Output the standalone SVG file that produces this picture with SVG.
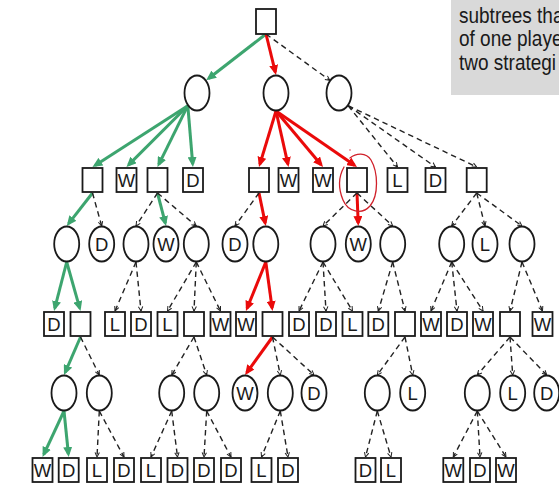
<svg xmlns="http://www.w3.org/2000/svg" width="559" height="492" viewBox="0 0 559 492">
  <style>
    .sq { fill: #fff; stroke: #1a1a1a; stroke-width: 1.8; }
    .ci { fill: #fff; stroke: #1a1a1a; stroke-width: 1.8; }
    .lbl { font-family: "Liberation Sans", Arial, sans-serif; font-size: 18.5px; fill: #1a1a1a; text-anchor: middle; }
    .dash { fill: none; stroke: #222; stroke-width: 1.4; stroke-dasharray: 5.5 4; marker-end: url(#tick); }
    .grn { fill: none; stroke: #3da56f; stroke-width: 3; marker-end: url(#headG); }
    .red { fill: none; stroke: #ea0a0a; stroke-width: 3; marker-end: url(#headR); }
    .note { font-family: "Liberation Sans", Arial, sans-serif; font-size: 19px; fill: #1a1a1a; }
  </style>
  <defs>
    <marker id="headG" markerUnits="userSpaceOnUse" viewBox="0 0 10 9" markerWidth="10" markerHeight="9" refX="7" refY="4.5" orient="auto">
      <path d="M0,0 L10,4.5 L0,9 z" fill="#3da56f"/>
    </marker>
    <marker id="headR" markerUnits="userSpaceOnUse" viewBox="0 0 10 9" markerWidth="10" markerHeight="9" refX="7" refY="4.5" orient="auto">
      <path d="M0,0 L10,4.5 L0,9 z" fill="#ea0a0a"/>
    </marker>
    <marker id="tick" markerUnits="userSpaceOnUse" viewBox="0 0 5 6" markerWidth="5" markerHeight="6" refX="5" refY="3" orient="auto">
      <path d="M0.5,0.8 L5,3 L0.5,5.2" fill="none" stroke="#222" stroke-width="1"/>
    </marker>
  </defs>

  <rect width="559" height="492" fill="#fff"/>

  <!-- side note box (text runs past the right edge) -->
  <g id="note">
    <rect x="451" y="-5" width="120" height="100" fill="#d9d9d9"/>
    <g transform="translate(459,0) scale(1,1.18)">
      <text class="note" x="0" y="19.1">subtrees tha</text>
      <text class="note" x="0" y="39.4">of one playe</text>
      <text class="note" x="0" y="59.7">two strategi</text>
    </g>
  </g>

  <!-- connectors -->
  <g id="connectors">
    <!-- green strategy -->
    <path class="grn" d="M266,34 L208.6,78.5"/>
    <path class="grn" d="M187.8,105.7 L95,165.4"/>
    <path class="grn" d="M187.8,105.7 L128.6,164.9"/>
    <path class="grn" d="M187.8,105.7 L158.8,164.3"/>
    <path class="grn" d="M187.8,105.7 L192.7,164"/>
    <path class="grn" d="M92.5,193 L68.6,223.6"/>
    <path class="grn" d="M157.5,193 L165.3,223.1"/>
    <path class="grn" d="M66.7,262 L54.8,308.1"/>
    <path class="grn" d="M66.7,262 L79.7,308.1"/>
    <path class="grn" d="M80.5,337 L65.2,372.3"/>
    <path class="grn" d="M64,411 L43.8,454.3"/>
    <path class="grn" d="M64,411 L68.4,454"/>
    <!-- red strategy -->
    <path class="red" d="M266,34 L275.3,72.1"/>
    <path class="red" d="M276,111 L259.9,164.1"/>
    <path class="red" d="M276,111 L287.9,164.1"/>
    <path class="red" d="M276,111 L321.1,164.7"/>
    <path class="red" d="M276,111 L354.5,165.3"/>
    <path class="red" d="M259,193 L265.2,223.1"/>
    <path class="red" d="M357,193 L358.2,223"/>
    <path class="red" d="M265.8,262 L247.1,308.2"/>
    <path class="red" d="M265.8,262 L272.1,308"/>
    <path class="red" d="M272.5,337 L246.8,372.6"/>
    <!-- remaining moves -->
    <path class="dash" d="M266,34 L329.8,80.3"/>
    <path class="dash" d="M348.2,105.7 L397.5,167"/>
    <path class="dash" d="M348.2,105.7 L435.5,167"/>
    <path class="dash" d="M348.2,105.7 L476.7,167"/>

    <path class="dash" d="M92.5,193 L101.7,226"/>
    <path class="dash" d="M157.5,193 L136,226"/>
    <path class="dash" d="M157.5,193 L196.3,226"/>
    <path class="dash" d="M259,193 L235,226"/>
    <path class="dash" d="M357,193 L323,226"/>
    <path class="dash" d="M357,193 L392.7,226"/>
    <path class="dash" d="M476.7,193 L451.7,226"/>
    <path class="dash" d="M476.7,193 L485,226"/>
    <path class="dash" d="M476.7,193 L522,226"/>

    <path class="dash" d="M136,262 L115,311"/>
    <path class="dash" d="M136,262 L141,311"/>
    <path class="dash" d="M196.3,262 L167.5,311"/>
    <path class="dash" d="M196.3,262 L194,311"/>
    <path class="dash" d="M196.3,262 L220.5,311"/>
    <path class="dash" d="M323,262 L299,311"/>
    <path class="dash" d="M323,262 L326,311"/>
    <path class="dash" d="M323,262 L352.5,311"/>
    <path class="dash" d="M392.7,262 L378.3,311"/>
    <path class="dash" d="M392.7,262 L405,311"/>
    <path class="dash" d="M451.7,262 L431,311"/>
    <path class="dash" d="M451.7,262 L457,311"/>
    <path class="dash" d="M451.7,262 L483,311"/>
    <path class="dash" d="M522,262 L510,311"/>
    <path class="dash" d="M522,262 L542.5,311"/>

    <path class="dash" d="M80.5,337 L99.3,375"/>
    <path class="dash" d="M194,337 L171.7,375"/>
    <path class="dash" d="M194,337 L206.7,375"/>
    <path class="dash" d="M272.5,337 L280.3,375"/>
    <path class="dash" d="M272.5,337 L314,375"/>
    <path class="dash" d="M405,337 L377.3,375"/>
    <path class="dash" d="M405,337 L412.7,375"/>
    <path class="dash" d="M510,337 L477.3,375"/>
    <path class="dash" d="M510,337 L512.7,375"/>
    <path class="dash" d="M510,337 L546.7,375"/>

    <path class="dash" d="M99.3,411 L97,457"/>
    <path class="dash" d="M99.3,411 L124,457"/>
    <path class="dash" d="M171.7,411 L151,457"/>
    <path class="dash" d="M171.7,411 L177.5,457"/>
    <path class="dash" d="M206.7,411 L204,457"/>
    <path class="dash" d="M206.7,411 L231,457"/>
    <path class="dash" d="M280.3,411 L261.5,457"/>
    <path class="dash" d="M280.3,411 L288,457"/>
    <path class="dash" d="M377.3,411 L365.5,457"/>
    <path class="dash" d="M377.3,411 L391,457"/>
    <path class="dash" d="M477.3,411 L453.3,457"/>
    <path class="dash" d="M477.3,411 L480,457"/>
    <path class="dash" d="M477.3,411 L506,457"/>
  </g>

  <!-- level 0 -->
  <g id="n0"><rect class="sq" x="256" y="9" width="20" height="25"/></g>

  <!-- level 1 -->
  <g id="n1a"><ellipse class="ci" cx="197" cy="93" rx="12.5" ry="17.5"/></g>
  <g id="n1b"><ellipse class="ci" cx="276" cy="93" rx="12.5" ry="17.5"/></g>
  <g id="n1c"><ellipse class="ci" cx="339" cy="93" rx="12.5" ry="17.5"/></g>

  <!-- level 2 -->
  <g id="n2a"><rect class="sq" x="82.5" y="168" width="20" height="24"/></g>
  <g id="n2b"><rect class="sq" x="116.5" y="168" width="20" height="24"/><text class="lbl" x="126.5" y="187">W</text></g>
  <g id="n2c"><rect class="sq" x="147.5" y="168" width="20" height="24"/></g>
  <g id="n2d"><rect class="sq" x="183" y="168" width="20" height="24"/><text class="lbl" x="193" y="187">D</text></g>
  <g id="n2e"><rect class="sq" x="249" y="168" width="20" height="24"/></g>
  <g id="n2f"><rect class="sq" x="278.5" y="168" width="20" height="24"/><text class="lbl" x="288.5" y="187">W</text></g>
  <g id="n2g"><rect class="sq" x="313" y="168" width="20" height="24"/><text class="lbl" x="323" y="187">W</text></g>
  <g id="n2h"><rect class="sq" x="347" y="168" width="20" height="24"/></g>
  <g id="n2i"><rect class="sq" x="387.5" y="168" width="20" height="24"/><text class="lbl" x="397.5" y="187">L</text></g>
  <g id="n2j"><rect class="sq" x="425.5" y="168" width="20" height="24"/><text class="lbl" x="435.5" y="187">D</text></g>
  <g id="n2k"><rect class="sq" x="466.7" y="168" width="20" height="24"/></g>

  <!-- level 3 -->
  <g id="n3a"><ellipse class="ci" cx="66.7" cy="244" rx="12.5" ry="17.5"/></g>
  <g id="n3b"><ellipse class="ci" cx="101.7" cy="244" rx="12.5" ry="17.5"/><text class="lbl" x="101.7" y="250.5">D</text></g>
  <g id="n3c"><ellipse class="ci" cx="136" cy="244" rx="12.5" ry="17.5"/></g>
  <g id="n3d"><ellipse class="ci" cx="166" cy="244" rx="12.5" ry="17.5"/><text class="lbl" x="166" y="250.5">W</text></g>
  <g id="n3e"><ellipse class="ci" cx="196.3" cy="244" rx="12.5" ry="17.5"/></g>
  <g id="n3f"><ellipse class="ci" cx="235" cy="244" rx="12.5" ry="17.5"/><text class="lbl" x="235" y="250.5">D</text></g>
  <g id="n3g"><ellipse class="ci" cx="265.8" cy="244" rx="12.5" ry="17.5"/></g>
  <g id="n3h"><ellipse class="ci" cx="323" cy="244" rx="12.5" ry="17.5"/></g>
  <g id="n3i"><ellipse class="ci" cx="358.3" cy="244" rx="12.5" ry="17.5"/><text class="lbl" x="358.3" y="250.5">W</text></g>
  <g id="n3j"><ellipse class="ci" cx="392.7" cy="244" rx="12.5" ry="17.5"/></g>
  <g id="n3k"><ellipse class="ci" cx="451.7" cy="244" rx="12.5" ry="17.5"/></g>
  <g id="n3l"><ellipse class="ci" cx="485" cy="244" rx="12.5" ry="17.5"/><text class="lbl" x="485" y="250.5">L</text></g>
  <g id="n3m"><ellipse class="ci" cx="522" cy="244" rx="12.5" ry="17.5"/></g>

  <!-- level 4 -->
  <g id="n4a"><rect class="sq" x="44" y="312" width="20" height="24"/><text class="lbl" x="54" y="331">D</text></g>
  <g id="n4b"><rect class="sq" x="70.5" y="312" width="20" height="24"/></g>
  <g id="n4c"><rect class="sq" x="105" y="312" width="20" height="24"/><text class="lbl" x="115" y="331">L</text></g>
  <g id="n4d"><rect class="sq" x="131" y="312" width="20" height="24"/><text class="lbl" x="141" y="331">D</text></g>
  <g id="n4e"><rect class="sq" x="157.5" y="312" width="20" height="24"/><text class="lbl" x="167.5" y="331">L</text></g>
  <g id="n4f"><rect class="sq" x="184" y="312" width="20" height="24"/></g>
  <g id="n4g"><rect class="sq" x="210.5" y="312" width="20" height="24"/><text class="lbl" x="220.5" y="331">W</text></g>
  <g id="n4h"><rect class="sq" x="236" y="312" width="20" height="24"/><text class="lbl" x="246" y="331">W</text></g>
  <g id="n4i"><rect class="sq" x="262.5" y="312" width="20" height="24"/></g>
  <g id="n4j"><rect class="sq" x="289" y="312" width="20" height="24"/><text class="lbl" x="299" y="331">D</text></g>
  <g id="n4k"><rect class="sq" x="316" y="312" width="20" height="24"/><text class="lbl" x="326" y="331">D</text></g>
  <g id="n4l"><rect class="sq" x="342.5" y="312" width="20" height="24"/><text class="lbl" x="352.5" y="331">L</text></g>
  <g id="n4m"><rect class="sq" x="368.3" y="312" width="20" height="24"/><text class="lbl" x="378.3" y="331">D</text></g>
  <g id="n4n"><rect class="sq" x="395" y="312" width="20" height="24"/></g>
  <g id="n4o"><rect class="sq" x="421" y="312" width="20" height="24"/><text class="lbl" x="431" y="331">W</text></g>
  <g id="n4p"><rect class="sq" x="447" y="312" width="20" height="24"/><text class="lbl" x="457" y="331">D</text></g>
  <g id="n4q"><rect class="sq" x="473" y="312" width="20" height="24"/><text class="lbl" x="483" y="331">W</text></g>
  <g id="n4r"><rect class="sq" x="500" y="312" width="20" height="24"/></g>
  <g id="n4s"><rect class="sq" x="532.5" y="312" width="20" height="24"/><text class="lbl" x="542.5" y="331">W</text></g>

  <!-- level 5 -->
  <g id="n5a"><ellipse class="ci" cx="64" cy="393" rx="12.5" ry="17.5"/></g>
  <g id="n5b"><ellipse class="ci" cx="99.3" cy="393" rx="12.5" ry="17.5"/></g>
  <g id="n5c"><ellipse class="ci" cx="171.7" cy="393" rx="12.5" ry="17.5"/></g>
  <g id="n5d"><ellipse class="ci" cx="206.7" cy="393" rx="12.5" ry="17.5"/></g>
  <g id="n5e"><ellipse class="ci" cx="245" cy="393" rx="12.5" ry="17.5"/><text class="lbl" x="245" y="399.5">W</text></g>
  <g id="n5f"><ellipse class="ci" cx="280.3" cy="393" rx="12.5" ry="17.5"/></g>
  <g id="n5g"><ellipse class="ci" cx="314" cy="393" rx="12.5" ry="17.5"/><text class="lbl" x="314" y="399.5">D</text></g>
  <g id="n5h"><ellipse class="ci" cx="377.3" cy="393" rx="12.5" ry="17.5"/></g>
  <g id="n5i"><ellipse class="ci" cx="412.7" cy="393" rx="12.5" ry="17.5"/><text class="lbl" x="412.7" y="399.5">L</text></g>
  <g id="n5j"><ellipse class="ci" cx="477.3" cy="393" rx="12.5" ry="17.5"/></g>
  <g id="n5k"><ellipse class="ci" cx="512.7" cy="393" rx="12.5" ry="17.5"/><text class="lbl" x="512.7" y="399.5">L</text></g>
  <g id="n5l"><ellipse class="ci" cx="546.7" cy="393" rx="12.5" ry="17.5"/><text class="lbl" x="546.7" y="399.5">D</text></g>

  <!-- level 6 -->
  <g id="n6a"><rect class="sq" x="32.5" y="458" width="20" height="24"/><text class="lbl" x="42.5" y="477">W</text></g>
  <g id="n6b"><rect class="sq" x="58.7" y="458" width="20" height="24"/><text class="lbl" x="68.7" y="477">D</text></g>
  <g id="n6c"><rect class="sq" x="87" y="458" width="20" height="24"/><text class="lbl" x="97" y="477">L</text></g>
  <g id="n6d"><rect class="sq" x="114" y="458" width="20" height="24"/><text class="lbl" x="124" y="477">D</text></g>
  <g id="n6e"><rect class="sq" x="141" y="458" width="20" height="24"/><text class="lbl" x="151" y="477">L</text></g>
  <g id="n6f"><rect class="sq" x="167.5" y="458" width="20" height="24"/><text class="lbl" x="177.5" y="477">D</text></g>
  <g id="n6g"><rect class="sq" x="194" y="458" width="20" height="24"/><text class="lbl" x="204" y="477">D</text></g>
  <g id="n6h"><rect class="sq" x="221" y="458" width="20" height="24"/><text class="lbl" x="231" y="477">D</text></g>
  <g id="n6i"><rect class="sq" x="251.5" y="458" width="20" height="24"/><text class="lbl" x="261.5" y="477">L</text></g>
  <g id="n6j"><rect class="sq" x="278" y="458" width="20" height="24"/><text class="lbl" x="288" y="477">D</text></g>
  <g id="n6k"><rect class="sq" x="355.5" y="458" width="20" height="24"/><text class="lbl" x="365.5" y="477">D</text></g>
  <g id="n6l"><rect class="sq" x="381" y="458" width="20" height="24"/><text class="lbl" x="391" y="477">L</text></g>
  <g id="n6m"><rect class="sq" x="443.3" y="458" width="20" height="24"/><text class="lbl" x="453.3" y="477">W</text></g>
  <g id="n6n"><rect class="sq" x="470" y="458" width="20" height="24"/><text class="lbl" x="480" y="477">D</text></g>
  <g id="n6o"><rect class="sq" x="496" y="458" width="20" height="24"/><text class="lbl" x="506" y="477">W</text></g>

  <!-- hand-drawn highlight loop around the chosen reply -->
  <g id="highlight" fill="none" stroke="#d0202a" stroke-width="1.3" stroke-linecap="round">
    <path d="M350,158 C356,153 366,152 371,160 C378,172 379,195 370,206 C362,215 348,212 343,200 C338,188 339,176 344,167"/>
    <circle cx="350" cy="150" r="0.7" fill="#d0202a" stroke="none"/>
  </g>
</svg>
